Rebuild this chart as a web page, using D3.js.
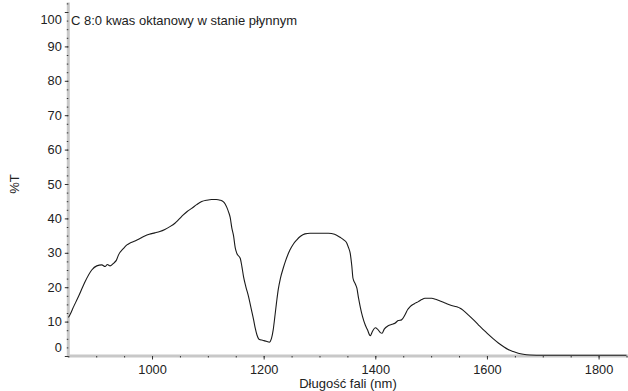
<!DOCTYPE html>
<html>
<head>
<meta charset="utf-8">
<script src="https://cdn.jsdelivr.net/npm/d3@7"></script>
<style>
  body { margin: 0; background: #fff; }
  text { font-family: "Liberation Sans", Arial, sans-serif; fill: #222; }
</style>
</head>
<body>
<div id="chart"></div>
<script>
// spectrum (wavelength in nm, %T)
const wavelength = [850, 851, 860, 868, 880, 892, 901, 910, 916, 920, 925, 932, 936, 940, 949, 955, 960, 966, 973, 980,
    987, 995, 1005, 1014, 1023, 1032, 1041, 1048, 1056, 1063, 1071, 1080, 1089, 1098, 1107, 1115, 1122, 1128, 1131, 1134,
    1137, 1140, 1143, 1146, 1149, 1152, 1158, 1161, 1164, 1168, 1173, 1178, 1182, 1185, 1188, 1191, 1194, 1198, 1202, 1206,
    1210, 1214, 1217, 1220, 1223, 1226, 1230, 1235, 1240, 1247, 1253, 1259, 1266, 1274, 1283, 1292, 1305, 1316, 1327, 1337,
    1344, 1349, 1352, 1355, 1358, 1360, 1364, 1367, 1370, 1373, 1377, 1382, 1386, 1391, 1395, 1400, 1404, 1409, 1412, 1416,
    1423, 1430, 1435, 1441, 1447, 1453, 1458, 1462, 1470, 1477, 1483, 1489, 1501, 1508, 1516, 1525, 1534, 1546, 1552, 1558,
    1567, 1576, 1585, 1594, 1603, 1612, 1621, 1630, 1638, 1647, 1656, 1665, 1677, 1700, 1850];
const transmittance = [11.2, 11.4, 14.5, 17.2, 21.6, 25, 26.2, 26.5, 26, 26.6, 26.2, 27.1, 27.8, 29.4, 31.3, 32.3, 32.8, 33.2, 33.7, 34.3,
    34.9, 35.4, 35.8, 36.2, 36.8, 37.6, 38.6, 39.7, 41, 42, 42.9, 44, 44.9, 45.3, 45.5, 45.5, 45.3, 44.8, 44.2, 43.2,
    41.9, 40.3, 37.2, 35.0, 31.5, 29.8, 28.4, 26, 23, 20.2, 17.2, 13.5, 10.5, 8, 6.1, 5.0, 4.7, 4.6, 4.4, 4.2,
    4.0, 5.1, 7.5, 11.4, 15.5, 19.2, 22.6, 25.5, 28, 30.8, 32.5, 33.7, 34.8, 35.5, 35.7, 35.7, 35.7, 35.7, 35.4, 34.5,
    33.7, 32.8, 31.5, 29.9, 26, 22.6, 21, 19.7, 16.8, 14.3, 11.5, 9.0, 7.6, 5.9, 7.2, 8.2, 7.8, 6.8, 6.6, 7.8,
    8.8, 9.2, 9.5, 10.3, 10.5, 11.9, 13.5, 14.3, 15.2, 15.8, 16.4, 16.8, 16.8, 16.5, 16, 15.4, 14.8, 14.3, 13.9, 13.2,
    11.9, 10.5, 9, 7.6, 6.2, 4.9, 3.7, 2.7, 1.9, 1.3, 0.8, 0.5, 0.3, 0.2, 0.2];

const xTicks = [1000, 1200, 1400, 1600, 1800];
const yTicks = [0, 10, 20, 30, 40, 50, 60, 70, 80, 90, 100];

const title = "C 8:0 kwas oktanowy w stanie płynnym";
const xTitle = "Długość fali (nm)";
const yTitle = "%T";

const width = 628, height = 391;
const plot = { left: 68.3, bottom: 356, right: 626.5, top: 3.4 };

const svg = d3.select("#chart").append("svg")
    .attr("width", width)
    .attr("height", height);

const x = d3.scaleLinear().domain([850, 1850]).range([plot.left, plot.right]);
const y = d3.scaleLinear().domain([0, 102.5]).range([plot.bottom, plot.top]);

// grey axis bars
svg.append("line")
    .attr("x1", plot.left).attr("x2", plot.left)
    .attr("y1", plot.top - 1).attr("y2", plot.bottom + 1)
    .attr("stroke", "#c8c8c8").attr("stroke-width", 3);
svg.append("line")
    .attr("x1", plot.left - 1).attr("x2", plot.right + 2)
    .attr("y1", plot.bottom).attr("y2", plot.bottom)
    .attr("stroke", "#c8c8c8").attr("stroke-width", 3);

// minor ticks
const xMinor = d3.range(850, 1851, 50);
const yMinor = d3.range(0, 102.6, 2.5);

const gxMinor = svg.append("g")
    .attr("transform", `translate(0,${plot.bottom})`)
    .call(d3.axisBottom(x).tickValues(xMinor).tickSize(1.5).tickFormat(""));
const gyMinor = svg.append("g")
    .attr("transform", `translate(${plot.left},0)`)
    .call(d3.axisLeft(y).tickValues(yMinor).tickSize(1.5).tickFormat(""));

// major ticks with labels
const gx = svg.append("g")
    .attr("transform", `translate(0,${plot.bottom})`)
    .call(d3.axisBottom(x).tickValues(xTicks).tickSize(3.5).tickPadding(5).tickFormat(d3.format("d")));
const gy = svg.append("g")
    .attr("transform", `translate(${plot.left},0)`)
    .call(d3.axisLeft(y).tickValues(yTicks).tickSize(3.5).tickPadding(3).tickFormat(d3.format("d")));

[gxMinor, gyMinor, gx, gy].forEach(function (g) {
    g.select(".domain").remove();
    g.selectAll(".tick line").attr("stroke", "#333").attr("stroke-width", 1);
    g.selectAll(".tick text")
        .style("font-family", "'Liberation Sans', Arial, sans-serif")
        .style("font-size", "12.8px")
        .attr("fill", "#222");
});

// end labels are pulled inward by one minor step, as in the original
gy.selectAll(".tick text")
    .attr("y", function (d) {
        if (d === 0) return y(2.5) - y(0);
        if (d === 100) return y(97.5) - y(100) - 1;
        return 0;
    });

// spectrum
svg.append("path")
    .datum(d3.zip(wavelength, transmittance))
    .attr("fill", "none")
    .attr("stroke", "#1a1a1a")
    .attr("stroke-width", 1.1)
    .attr("d", d3.line()
        .curve(d3.curveMonotoneX)
        .x(function (d) { return x(d[0]); })
        .y(function (d) { return y(d[1]); }));

// texts
svg.append("text")
    .attr("x", 71)
    .attr("y", 25)
    .style("font-size", "13px")
    .text(title);

svg.append("text")
    .attr("x", 348)
    .attr("y", 388)
    .attr("text-anchor", "middle")
    .style("font-size", "13px")
    .text(xTitle);

svg.append("text")
    .attr("transform", "translate(19,184) rotate(-90)")
    .attr("text-anchor", "middle")
    .style("font-size", "13px")
    .text(yTitle);
</script>
</body>
</html>
